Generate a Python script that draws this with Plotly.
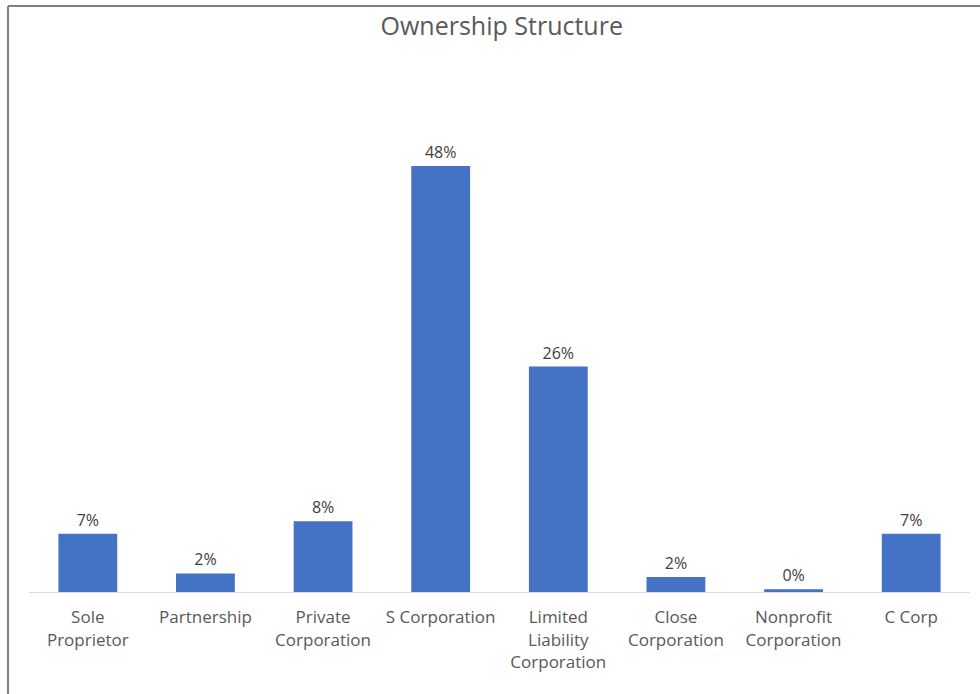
import plotly.graph_objects as go

# Ownership structure shares (percent of respondents)
categories = [
    "Sole<br>Proprietor",
    "Partnership",
    "Private<br>Corporation",
    "S Corporation",
    "Limited<br>Liability<br>Corporation",
    "Close<br>Corporation",
    "Nonprofit<br>Corporation",
    "C Corp",
]
shares = [6.6, 2.1, 8.0, 48.2, 25.5, 1.7, 0.3, 6.6]

W, H = 980, 694
ML, MR, MT, MB = 29, 10, 150, 102
FONT = "Open Sans"

fig = go.Figure(
    go.Bar(
        x=list(range(len(categories))),
        y=shares,
        marker=dict(color="#4472C4", line=dict(width=0)),
        texttemplate="%{y:.0f}%",
        textposition="outside",
        textfont=dict(family=FONT, size=16, color="#404040"),
        cliponaxis=False,
        width=0.5,
    )
)

# outer chart frame (left and top edges visible)
def px_x(px):
    return (px - ML) / (W - ML - MR)

def px_y(py):
    return (H - MB - py) / (H - MT - MB)

fig.add_shape(type="line", xref="paper", yref="paper",
              x0=px_x(8), x1=px_x(8), y0=px_y(6), y1=px_y(720),
              line=dict(color="#7f7f7f", width=2))
fig.add_shape(type="line", xref="paper", yref="paper",
              x0=px_x(8), x1=px_x(1000), y0=px_y(6), y1=px_y(6),
              line=dict(color="#7f7f7f", width=2))

fig.update_layout(
    width=W, height=H,
    margin=dict(l=ML, r=MR, t=MT, b=MB),
    paper_bgcolor="white", plot_bgcolor="white",
    showlegend=False,
    title=dict(text="Ownership Structure", x=0.512, xanchor="center",
               y=1 - 26 / H, yanchor="middle",
               font=dict(family=FONT, size=25, color="#595959")),
    xaxis=dict(
        tickmode="array",
        tickvals=list(range(len(categories))),
        ticktext=categories,
        range=[-0.5, len(categories) - 0.5],
        showline=True, linecolor="#d9d9d9", linewidth=1,
        showgrid=False, zeroline=False,
        ticks="", ticklabelstandoff=10,
        tickfont=dict(family=FONT, size=17, color="#595959"),
    ),
    yaxis=dict(range=[0, 50], visible=False, showgrid=False, zeroline=False),
)

fig.write_html("out.html")
